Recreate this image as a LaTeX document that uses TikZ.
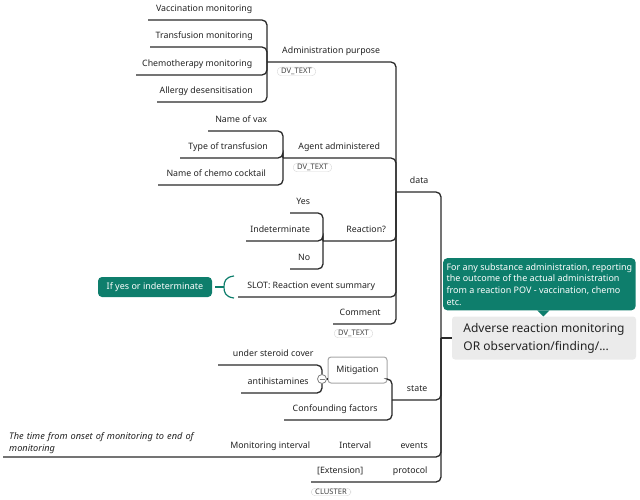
\documentclass[tikz,border=0pt]{standalone}
\usepackage{fontspec}
\setmainfont{Noto Sans}
\usetikzlibrary{positioning}
\definecolor{linegray}{HTML}{2A2A2A}
\definecolor{inkgray}{HTML}{222222}
\definecolor{notegreen}{HTML}{0E7E6C}
\definecolor{rootfill}{HTML}{EBEBEB}
\definecolor{taggray}{HTML}{D8D8D8}

\begin{document}
\begin{tikzpicture}[
    x=1pt, y=-1pt,
    topic/.style={
        anchor=south west,
        minimum width=#1,
        inner xsep=0pt,
        inner ysep=0pt,
        text height=7pt,
        text depth=8pt,
        text=inkgray,
        font=\fontsize{8.8}{10}\selectfont
    },
    tag/.style={
        anchor=north west,
        draw=taggray,
        rounded corners=4pt,
        fill=white,
        inner xsep=4pt,
        inner ysep=1pt,
        text=inkgray!85,
        font=\fontsize{7.6}{8}\selectfont
    },
    boxtopic/.style={
        draw=gray!70,
        rounded corners=3pt,
        line width=1pt,
        fill=white,
        minimum width=59pt,
        minimum height=26pt,
        text=inkgray,
        font=\fontsize{8.8}{10}\selectfont
    },
    rootbox/.style={
        fill=rootfill,
        rounded corners=3pt,
        align=left,
        minimum width=184pt,
        minimum height=43pt,
        text=inkgray,
        font=\fontsize{12}{18}\selectfont
    },
    callout/.style={
        fill=notegreen,
        rounded corners=4pt,
        align=left,
        minimum width=191pt,
        inner ysep=5pt,
        text=white,
        font=\fontsize{9}{11.7}\selectfont
    },
    summary/.style={
        fill=notegreen,
        rounded corners=4pt,
        minimum width=114pt,
        minimum height=20pt,
        inner sep=0pt,
        text=white,
        font=\fontsize{9}{10}\selectfont
    },
    fold/.style={
        circle,
        draw=gray,
        fill=white,
        line width=0.8pt,
        minimum size=9pt,
        inner sep=0pt,
        path picture={\draw[gray] ([xshift=-2.5pt]path picture bounding box.center) -- ([xshift=2.5pt]path picture bounding box.center);}
    },
    link/.style={draw=linegray, line width=1.3pt, rounded corners=5pt},
    sumlink/.style={draw=notegreen, line width=1.2pt}
]
\useasboundingbox (0,0) rectangle (640,500);

% Central topic and its note
\node[rootbox] (root) at (544,338) {Adverse reaction monitoring\\OR observation/finding/...};
\node[callout, anchor=north west] (note) at (443,258) {For any substance administration, reporting\\the outcome of the actual administration\\from a reaction POV - vaccination, chemo\\etc.};
\fill[notegreen] ([xshift=-2pt]note.south) -- ++(12,0) -- ++(-6,6) -- cycle;
\coordinate (trunk) at (441,338);

% data: Administration purpose
\node[topic=112] (vacc) at (148,20) {Vaccination monitoring};
\node[topic=108] (transf) at (150,47) {Transfusion monitoring};
\node[topic=122] (chemo) at (136,75) {Chemotherapy monitoring};
\node[topic=98] (allergy) at (157,102) {Allergy desensitisation};
\node[topic=128] (admin) at (267,62) {Administration purpose};
\node[tag] (admintag) at ([xshift=10pt,yshift=-5pt]admin.south west) {DV\_TEXT};

% data: Agent administered
\node[topic=66] (vax) at (208,131) {Name of vax};
\node[topic=96] (typetr) at (180,158) {Type of transfusion};
\node[topic=116] (cocktail) at (158,185) {Name of chemo cocktail};
\node[topic=112] (agent) at (283,158) {Agent administered};
\node[tag] (agenttag) at ([xshift=10pt,yshift=-5pt]agent.south west) {DV\_TEXT};

% data: Reaction?
\node[topic=26] (yes) at (290,213) {Yes};
\node[topic=68] (indet) at (246,241) {Indeterminate};
\node[topic=28] (no) at (290,269) {No};
\node[topic=86] (reaction) at (323,241) {Reaction?};

% data: slot and comment
\node[topic=146] (slot) at (238,297) {SLOT: Reaction event summary};
\node[summary] (ifyes) at (155,287) {If yes or indeterminate};
\coordinate (brk) at (224,287);
\node[topic=54] (comment) at (333,324) {Comment};
\node[tag] (commenttag) at ([xshift=1pt,yshift=-5pt]comment.south west) {DV\_TEXT};
\node[topic=46] (data) at (396,192) {data};

% state
\node[topic=110] (steroid) at (218,365) {under steroid cover};
\node[topic=74] (antihist) at (241,393) {antihistamines};
\node[fold] (mitfold) at (322,379) {};
\node[boxtopic] (mitig) at (357.5,370) {Mitigation};
\node[topic=102] (confound) at (284,420) {Confounding factors};
\node[topic=50] (state) at (392,400) {state};

% events
\node[anchor=south west, align=left, text width=212pt, inner xsep=6pt, inner ysep=3pt,
      text=inkgray, font=\fontsize{9.2}{12}\selectfont\itshape] (onset) at (3,457)
      {The time from onset of monitoring to end of\\monitoring};
\node[topic=90] (monint) at (225,457) {Monitoring interval};
\node[topic=50] (interval) at (330,457) {Interval};
\node[topic=44] (events) at (392,457) {events};

% protocol
\node[topic=58] (extension) at (311,482) {[Extension]};
\node[topic=60] (protocol) at (380,482) {protocol};
\node[tag] (clustertag) at ([yshift=-6pt]extension.south west) {CLUSTER};

% Connectors
\foreach \c in {vacc,transf,chemo,allergy}
    \draw[link] (\c.south west) -| (admin.south west);
\foreach \c in {vax,typetr,cocktail}
    \draw[link] (\c.south west) -| (agent.south west);
\foreach \c in {yes,indet,no}
    \draw[link] (\c.south west) -| (reaction.south west);
\foreach \c in {admin,agent,reaction,slot,comment}
    \draw[link] (\c.south west) -| (data.south west);

\foreach \c in {steroid,antihist}
    \draw[link] (\c.south west) -| (mitfold);
\draw[link] (mitfold) -- (mitfold -| mitig.west);
\draw[link] (mitfold -| mitig.east) -| (state.south west);
\draw[link] (confound.south west) -| (state.south west);

\draw[link] (onset.south west) -- (monint.south west) -- (interval.south west)
    -- (events.south west) -| (trunk);
\draw[link] (extension.south west) -- (protocol.south west) -| (trunk);
\foreach \c in {data,state}
    \draw[link] (\c.south west) -| (trunk);
\draw[link] (trunk) -- (root.west);

% summary bracket
\draw[sumlink] ([xshift=3pt]ifyes.east) -- (brk);
\draw[sumlink] ([xshift=10pt,yshift=11pt]brk) .. controls ([xshift=1pt,yshift=10pt]brk) and ([yshift=5pt]brk) .. (brk)
    .. controls ([yshift=-5pt]brk) and ([xshift=1pt,yshift=-10pt]brk) .. ([xshift=10pt,yshift=-11pt]brk);

\end{tikzpicture}
\end{document}
